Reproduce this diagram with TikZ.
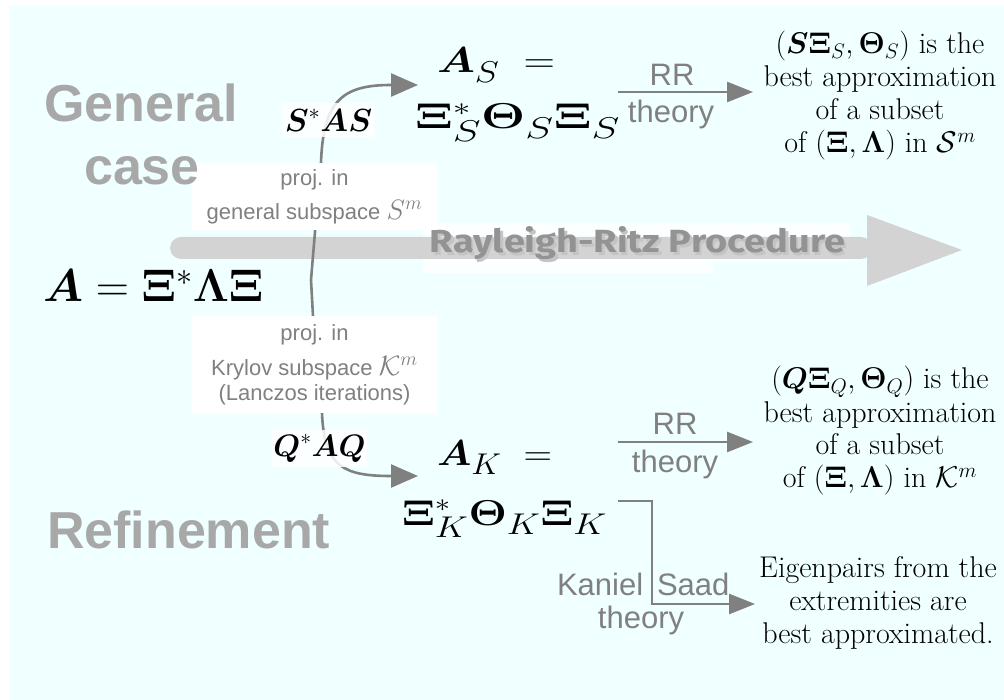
\RequirePackage{fix-cm}
\documentclass[tikz,border=0pt]{standalone}
\usepackage{amsmath,bm}
\usepackage[no-math]{fontspec}
\newfontfamily\hel{Liberation Sans}
\newfontfamily\fira{Fira Sans}
\usetikzlibrary{arrows.meta}
\definecolor{bgcyan}{HTML}{F0FFFF}
\definecolor{lblgray}{HTML}{808080}
\definecolor{titlegray}{HTML}{A8A8A8}
\definecolor{biggray}{HTML}{D3D3D3}
\definecolor{rrgray}{HTML}{939393}
\definecolor{shadowgray}{HTML}{C4C4C4}
\newcommand{\bs}[1]{\boldsymbol{#1}}
\newcommand{\msub}[1]{_{\lower4pt\hbox{\fontsize{30}{30}\selectfont$#1$}}}
\newcommand{\rrtext}{\resizebox{415pt}{26pt}{\fira\bfseries Rayleigh-Ritz Procedure}}
\begin{document}
\begin{tikzpicture}[x=1pt,y=-1pt,
  txt/.style={inner sep=0pt, outer sep=0pt},
  title/.style={txt, text=titlegray, font=\hel\bfseries\fontsize{52}{60}\selectfont},
  lbl/.style={txt, text=lblgray, font=\hel\fontsize{31}{36}\selectfont},
  pbox/.style={txt, fill=white, text=lblgray, align=center, font=\hel\fontsize{22}{27}\selectfont},
  mbox/.style={txt, fill=white, fill opacity=0.85, text opacity=1},
  bigmath/.style={txt, font=\fontsize{36}{40}\selectfont},
  rtxt/.style={txt, align=center, font=\fontsize{30}{33}\selectfont},
  conn/.style={draw=lblgray, line width=2.6pt, -{Triangle[length=27pt,width=23pt]}},
  connb/.style={draw=lblgray, line width=2.6pt, -{Triangle[length=26pt,width=20pt]}},
]
\useasboundingbox (0,0) rectangle (1004,700);
\fill[white] (0,0) rectangle (1004,700);
\fill[bgcyan] (9,5) rectangle (1004,700);

% glow behind the procedure title
\fill[white, opacity=0.85] (423,223) rectangle (850,262);
\fill[white, opacity=0.85] (423,262) rectangle (713,273);
% big procedure arrow
\fill[biggray, rounded corners=11pt] (170,237) rectangle (872,259);
\fill[biggray] (867,215) -- (962,250) -- (867,286) -- cycle;
\node[txt, anchor=base] (rrtitle) at (637.5,253)
  {\rlap{\hspace{2.5pt}\raisebox{-3pt}{\color{shadowgray}\rrtext}}\textcolor{rrgray}{\rrtext}};

% main matrix
\node[txt, anchor=base west, font=\fontsize{46}{55}\selectfont] (A) at (43,302)
  {$\bs{A}=\bs{\Xi}^*\bs{\Lambda}\bs{\Xi}$};

% projection curves
\coordinate (split) at (311,280);
\coordinate (ASin) at (418,85);
\coordinate (AKin) at (418,476);
\draw[conn] (split) -- (315,232) -- (321,163) .. controls (323,98) and (345,85) .. (ASin);
\draw[conn] (split) -- (313,316) -- (322,413) .. controls (324,468) and (345,476) .. (AKin);

\node[pbox, minimum width=245pt, minimum height=67pt] (projS) at (314.5,196.5)
  {proj. in\\[7pt]general subspace {\fontsize{28}{28}\selectfont$S^m$}};
\node[pbox, minimum width=245pt, minimum height=97pt] (projK) at (314.5,364.5)
  {proj. in\\[8pt]Krylov subspace {\fontsize{28}{28}\selectfont$\mathcal{K}^m$}\\[-2pt](Lanczos iterations)};
\node[mbox, minimum width=93pt, minimum height=34pt, font=\fontsize{32}{36}\selectfont] (SAS) at (328.5,120)
  {$\bs{S}^*\bs{A}\bs{S}$};
\node[mbox, minimum width=95pt, minimum height=37pt, font=\fontsize{31}{36}\selectfont] (QAQ) at (319.5,448.5)
  {$\bs{Q}^*\bs{A}\bs{Q}$};

% titles
\node[title, anchor=base] (gen1) at (141,122) {General};
\node[title, anchor=base] (gen2) at (142,185) {case};
\node[title, anchor=base west] (refine) at (47,548) {Refinement};

% projected matrices
\node[bigmath, anchor=base west] (AS1) at (437,73)
  {\resizebox{118pt}{\height}{$\bs{A}\msub{S}\;=$}};
\node[bigmath, anchor=base west] (AS2) at (415,129)
  {\resizebox{205pt}{\height}{$\bs{\Xi}^*\msub{S}\bs{\Theta}\msub{S}\bs{\Xi}\msub{S}$}};
\node[bigmath, anchor=base west] (AK1) at (437,465)
  {\resizebox{115pt}{\height}{$\bs{A}\msub{K}\;=$}};
\node[bigmath, anchor=base west] (AK2) at (402,525)
  {\resizebox{205pt}{\height}{$\bs{\Xi}^*\msub{K}\bs{\Theta}\msub{K}\bs{\Xi}\msub{K}$}};

% RR theory arrows
\coordinate (rr1s) at (618,92);
\coordinate (rr1e) at (753,92);
\draw[connb] (rr1s) -- (rr1e);
\node[lbl, anchor=base] (rr1a) at (672,86) {RR};
\node[lbl, anchor=base] (rr1b) at (671,123) {theory};

\coordinate (rr2s) at (618,442);
\coordinate (rr2e) at (753,442);
\draw[connb] (rr2s) -- (rr2e);
\node[lbl, anchor=base] (rr2a) at (675,435) {RR};
\node[lbl, anchor=base] (rr2b) at (675,472) {theory};

% Kaniel-Saad
\coordinate (kss) at (618,501);
\coordinate (kse) at (755,604);
\draw[connb] (kss) -- (652,501) -- (652,604) -- (kse);
\node[lbl, anchor=base west] (kan) at (557,595) {Kaniel};
\node[lbl, anchor=base west] (saad) at (657,595) {Saad};
\node[lbl, anchor=base] (kst) at (641,628) {theory};

% results
\node[rtxt] (resS) at (880,96)
  {$(\bs{S}\bs{\Xi}_S,\bs{\Theta}_S)$ is the\\best approximation\\of a subset\\of $(\bs{\Xi},\bs{\Lambda})$ in $\mathcal{S}^m$};
\node[rtxt] (resK) at (880,431)
  {$(\bs{Q}\bs{\Xi}_Q,\bs{\Theta}_Q)$ is the\\best approximation\\of a subset\\of $(\bs{\Xi},\bs{\Lambda})$ in $\mathcal{K}^m$};
\node[rtxt] (resE) at (878,603)
  {Eigenpairs from the\\extremities are\\best approximated.};
\end{tikzpicture}
\end{document}
